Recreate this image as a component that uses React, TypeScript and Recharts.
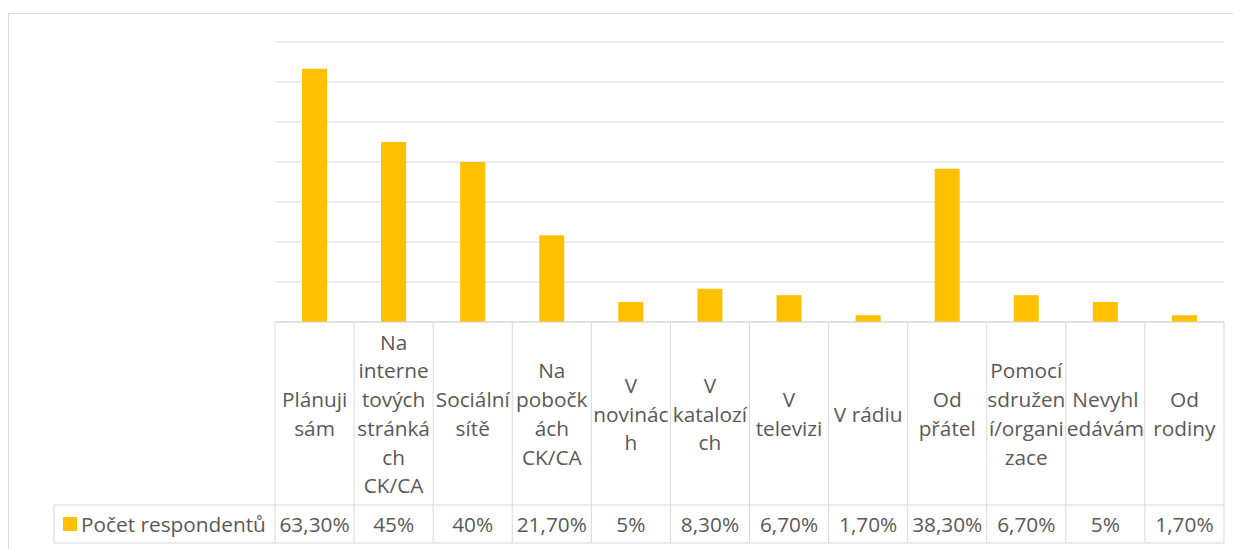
import React from "react"
import { BarChart, Bar, XAxis, YAxis, CartesianGrid } from "recharts"

// wording of each category, broken the way the table cells wrap it
const categoryLines: string[][] = [
  ["Plánuji", "sám"],
  ["Na", "interne", "tových", "stránká", "ch", "CK/CA"],
  ["Sociální", "sítě"],
  ["Na", "pobočk", "ách", "CK/CA"],
  ["V", "novinác", "h"],
  ["V", "katalozí", "ch"],
  ["V", "televizi"],
  ["V rádiu"],
  ["Od", "přátel"],
  ["Pomocí", "sdružen", "í/organi", "zace"],
  ["Nevyhl", "edávám"],
  ["Od", "rodiny"]
]
const categories = categoryLines.map((l) => l.join(""))
const respondents = [63.3, 45, 40, 21.7, 5, 8.3, 6.7, 1.7, 38.3, 6.7, 5, 1.7]
const yTicks = [0, 10, 20, 30, 40, 50, 60, 70]
const seriesName = "Počet respondentů"

const data = categories.map((c, i) => ({ name: c, value: respondents[i] }))

const BAR = "#FFC000"
const LINE = "#d9d9d9"
const TEXT = "#595959"
const FONT = "'Open Sans', sans-serif"
const FS = 20.8

const CHART_W = 1231
const CHART_H = 535
const MARGIN = { top: 28, right: 16, left: 266, bottom: 6 }
const TABLE_H = 221
const HEADER_H = 183
const LEGEND_W = 221
const LINE_H = 28.7
const cellW = (CHART_W - MARGIN.left - MARGIN.right) / categories.length

const fmt = (v: number) =>
  Number.isInteger(v) ? `${v}%` : `${v.toFixed(2).replace(".", ",")}%`

function TableTick(props: any) {
  const { x, y, payload } = props
  const i = payload.index
  const lines = categoryLines[i]
  const left = x - cellW / 2
  const right = x + cellW / 2
  const midY = y + HEADER_H / 2
  const startY = midY - ((lines.length - 1) * LINE_H) / 2
  return (
    <g>
      <line x1={left} y1={y} x2={left} y2={y + TABLE_H} stroke={LINE} />
      {i === categories.length - 1 && (
        <line x1={right} y1={y} x2={right} y2={y + TABLE_H} stroke={LINE} />
      )}
      <line x1={left} y1={y + HEADER_H} x2={right} y2={y + HEADER_H} stroke={LINE} />
      <line x1={left} y1={y + TABLE_H} x2={right} y2={y + TABLE_H} stroke={LINE} />
      {lines.map((l, k) => (
        <text
          key={k}
          x={x}
          y={startY + k * LINE_H}
          textAnchor="middle"
          dominantBaseline="central"
          fill={TEXT}
          fontSize={FS}
          fontFamily={FONT}
        >
          {l}
        </text>
      ))}
      <text
        x={x}
        y={y + (HEADER_H + TABLE_H) / 2}
        textAnchor="middle"
        dominantBaseline="central"
        fill={TEXT}
        fontSize={FS}
        fontFamily={FONT}
      >
        {fmt(respondents[i])}
      </text>
      {i === 0 && (
        <g>
          <line x1={left - LEGEND_W} y1={y + HEADER_H} x2={left} y2={y + HEADER_H} stroke={LINE} />
          <line x1={left - LEGEND_W} y1={y + TABLE_H} x2={left} y2={y + TABLE_H} stroke={LINE} />
          <line x1={left - LEGEND_W} y1={y + HEADER_H} x2={left - LEGEND_W} y2={y + TABLE_H} stroke={LINE} />
          <rect x={left - LEGEND_W + 9} y={y + (HEADER_H + TABLE_H) / 2 - 7} width={14} height={14} fill={BAR} />
          <text
            x={left - LEGEND_W + 27}
            y={y + (HEADER_H + TABLE_H) / 2}
            dominantBaseline="central"
            fill={TEXT}
            fontSize={FS}
            fontFamily={FONT}
          >
            {seriesName}
          </text>
        </g>
      )}
    </g>
  )
}

export default function App() {
  return (
    <div
      style={{
        marginTop: 5,
        width: 1240,
        height: 560,
        border: `1px solid ${LINE}`,
        boxSizing: "border-box",
        background: "#fff"
      }}
    >
      <style>{`html,body{overflow:hidden}`}</style>
      <BarChart width={CHART_W} height={CHART_H} data={data} margin={MARGIN} barSize={25}>
        <CartesianGrid vertical={false} stroke={LINE} />
        <XAxis
          dataKey="name"
          height={TABLE_H}
          axisLine={{ stroke: LINE }}
          tickLine={false}
          tickSize={0}
          tickMargin={0}
          interval={0}
          tick={<TableTick />}
        />
        <YAxis hide domain={[0, 70]} ticks={yTicks} />
        <Bar dataKey="value" name={seriesName} fill={BAR} isAnimationActive={false} />
      </BarChart>
    </div>
  )
}
